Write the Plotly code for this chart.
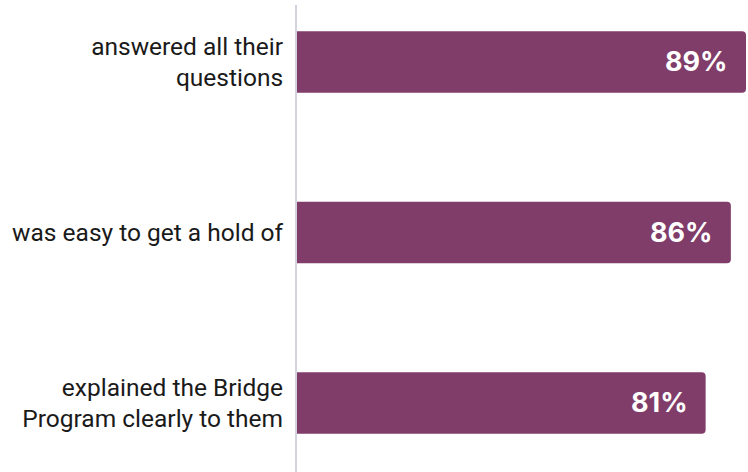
import plotly.graph_objects as go

categories = ["answered all their<br>questions", "was easy to get a hold of", "explained the Bridge<br>Program clearly to them"]
values = [89, 86, 81]
labels = ["89%", "86%", "81%"]

bar_color = "#803d69"

fig = go.Figure()
fig.add_trace(go.Bar(
    y=categories, x=values, orientation="h",
    marker=dict(color=bar_color, cornerradius=4, line=dict(width=0)),
    width=0.36, hoverinfo="skip",
))
for c, v, t in zip(categories, values, labels):
    fig.add_annotation(x=v, y=c, text=t, xanchor="right", yanchor="middle",
                       xshift=-16, showarrow=False,
                       font=dict(family="Inter", size=27, color="white", weight="bold"))

fig.update_layout(
    width=748, height=472,
    margin=dict(l=297, r=2, t=5, b=0),
    paper_bgcolor="white", plot_bgcolor="white",
    showlegend=False,
    xaxis=dict(range=[0, 89], visible=False, fixedrange=True),
    yaxis=dict(type="category", range=[2.405, -0.334], showline=True,
               linecolor="#d3d3e0", linewidth=2, showgrid=False, zeroline=False,
               ticks="", ticklabelstandoff=7, fixedrange=True,
               tickfont=dict(family="Roboto", size=24.5, color="#1a1a1a")),
)
fig.write_html("out.html", config={"displayModeBar": False, "staticPlot": True},
               post_script="document.body.style.margin='0px';document.body.style.overflow='hidden';")
